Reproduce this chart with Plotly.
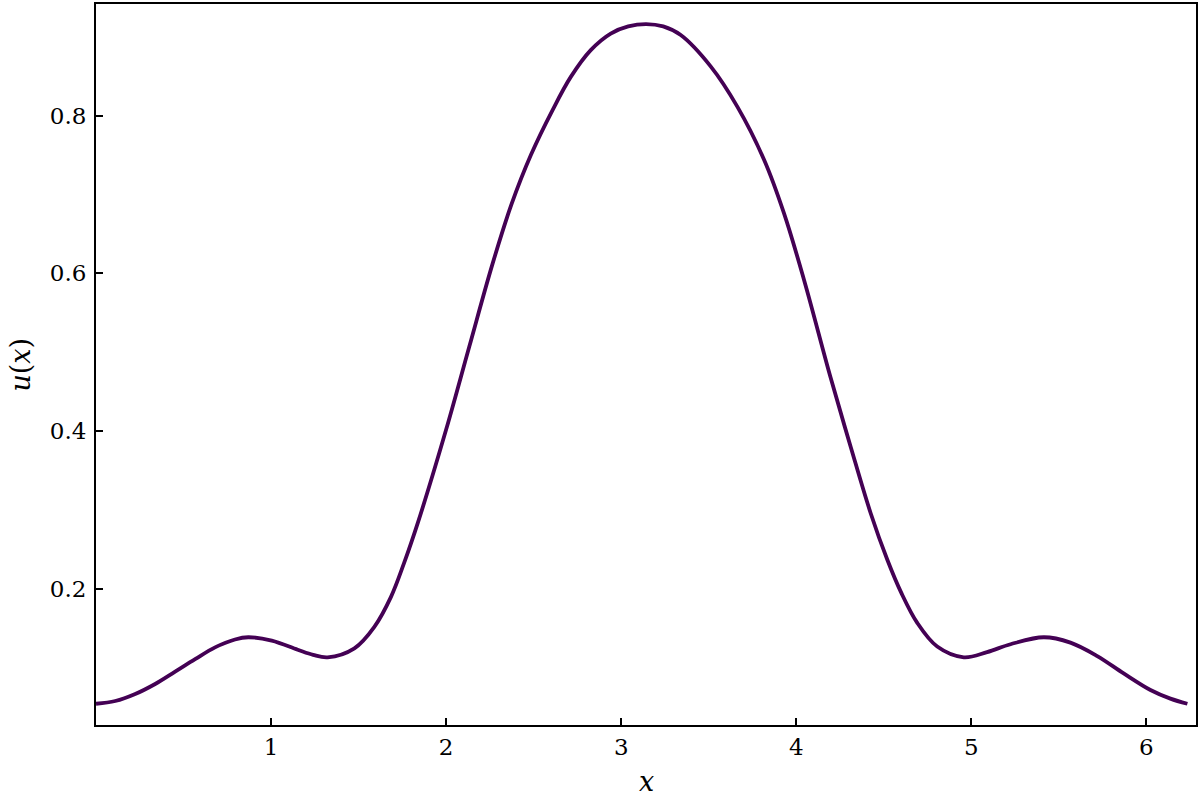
import plotly.graph_objects as go

# values
x_vals = [0.000, 0.110, 0.224, 0.338, 0.452, 0.566, 0.680, 0.794, 0.870, 1.004,
          1.152, 1.240, 1.323, 1.476, 1.590, 1.685, 1.760, 1.840, 2.000, 2.132,
          2.265, 2.374, 2.484, 2.608, 2.712, 2.826, 2.940, 3.040, 3.142, 3.240,
          3.340, 3.512, 3.664, 3.816, 3.930, 4.044, 4.196, 4.311, 4.425, 4.520,
          4.600, 4.691, 4.805, 4.957, 5.090, 5.224, 5.414, 5.566, 5.719, 5.870,
          6.023, 6.137, 6.234]
u_vals = [0.0545, 0.0580, 0.0669, 0.0796, 0.0952, 0.1110, 0.1260, 0.1360, 0.1388, 0.1345,
          0.1230, 0.1165, 0.1134, 0.1248, 0.1520, 0.1900, 0.2330, 0.2850, 0.4020, 0.5070,
          0.6120, 0.6880, 0.7500, 0.8070, 0.8490, 0.8830, 0.9040, 0.9130, 0.9160, 0.9130,
          0.9020, 0.8620, 0.8110, 0.7440, 0.6760, 0.5920, 0.4680, 0.3800, 0.2960, 0.2370,
          0.1950, 0.1570, 0.1270, 0.1134, 0.1200, 0.1300, 0.1388, 0.1320, 0.1150, 0.0930,
          0.0720, 0.0610, 0.0545]

x_ticks = [1, 2, 3, 4, 5, 6]
y_ticks = [0.2, 0.4, 0.6, 0.8]

LINE = "#440154"
FONT = "DejaVu Serif"

fig = go.Figure()
fig.add_trace(go.Scatter(
    x=x_vals, y=u_vals, mode="lines",
    line=dict(color=LINE, width=3.8, shape="spline", smoothing=1.0),
    showlegend=False, hoverinfo="skip",
))

axis_common = dict(
    showline=True, linecolor="black", linewidth=2, mirror=True,
    ticks="inside", ticklen=7, tickwidth=2, tickcolor="black",
    showgrid=False, zeroline=False, automargin=False,
    tickfont=dict(family=FONT, size=23, color="black"),
)

fig.update_xaxes(range=[0, 6.2832], tickvals=x_ticks, **axis_common)
fig.update_yaxes(
    range=[0.0276, 0.9414], tickvals=y_ticks, ticktext=[f"{v:.1f}" for v in y_ticks],
    ticklabelstandoff=3, **axis_common,
)

# axis titles placed as annotations so they sit where the reference has them
title_font = dict(family=FONT, size=27, color="black")
fig.add_annotation(text="<i>x</i>", xref="paper", yref="paper", x=0.5, y=-0.079,
                   xanchor="center", yanchor="middle", showarrow=False, font=title_font)
fig.add_annotation(text="<i>u</i>(<i>x</i>)", xref="paper", yref="paper", x=-0.069, y=0.5,
                   xanchor="center", yanchor="middle", textangle=-90, showarrow=False,
                   font=title_font)

fig.update_layout(
    width=1200, height=800,
    plot_bgcolor="white", paper_bgcolor="white",
    margin=dict(l=96, r=4, t=4, b=75),
)

# page body margin would shift the figure by 8px
fig.write_html("out.html", config={"displayModeBar": False},
               post_script="document.body.style.margin='0';")
